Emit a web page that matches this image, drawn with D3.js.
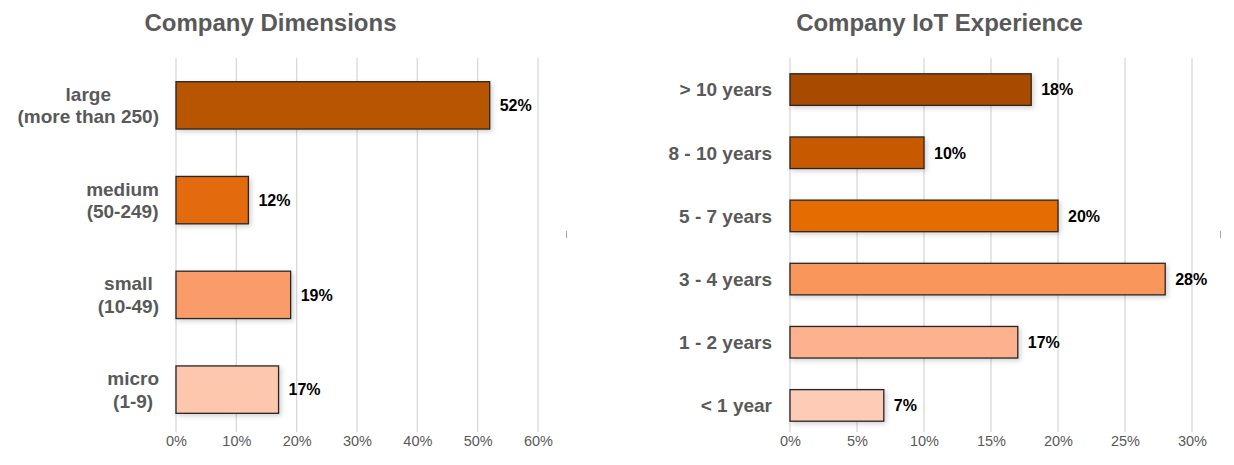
<!DOCTYPE html>
<html>
<head>
<meta charset="utf-8">
<script src="https://cdn.jsdelivr.net/npm/d3@7"></script>
<style>
  html, body { margin: 0; padding: 0; background: #ffffff; }
  svg { display: block; font-family: "Liberation Sans", Arial, sans-serif; }
</style>
</head>
<body>
<svg id="chart" width="1234" height="465"></svg>
<script>
// Company size breakdown (share of respondents, %)
const dimCategories = [["large", "(more than 250)"], ["medium", "(50-249)"], ["small", "(10-49)"], ["micro", "(1-9)"]];
const dimValues = [52, 12, 19, 17];
const dimColors = ["#b85400", "#e36b09", "#fa9c6b", "#fcc7ac"];
const dimTicks = [0, 10, 20, 30, 40, 50, 60];

// Years of IoT experience (share of respondents, %)
const iotCategories = [["> 10 years"], ["8 - 10 years"], ["5 - 7 years"], ["3 - 4 years"], ["1 - 2 years"], ["< 1 year"]];
const iotValues = [18, 10, 20, 28, 17, 7];
const iotColors = ["#a84b00", "#c75a00", "#e46c00", "#f9965c", "#fcb18f", "#fdcbb6"];
const iotTicks = [0, 5, 10, 15, 20, 25, 30];

const svg = d3.select("#chart");

// soft shadow under the bars
const defs = svg.append("defs");
const f = defs.append("filter").attr("id", "barShadow")
  .attr("x", "-10%").attr("y", "-30%").attr("width", "130%").attr("height", "170%");
f.append("feDropShadow").attr("dx", 2).attr("dy", 2).attr("stdDeviation", 2.5)
  .attr("flood-color", "#000").attr("flood-opacity", 0.18);

function drawPanel(cfg) {
  const g = svg.append("g");
  const x = d3.scaleLinear().domain([0, cfg.ticks[cfg.ticks.length - 1]]).range([cfg.x0, cfg.x1]);
  const y = d3.scaleBand().domain(d3.range(cfg.categories.length))
    .range([58, 437]).paddingInner(0.5).paddingOuter(0.25);

  // title
  g.append("text")
    .attr("x", cfg.titleX).attr("y", 31)
    .attr("text-anchor", "middle")
    .attr("font-size", 24).attr("font-weight", "bold").attr("fill", "#595959")
    .text(cfg.title);

  // vertical gridlines
  g.append("g").selectAll("line").data(cfg.ticks).join("line")
    .attr("x1", d => x(d)).attr("x2", d => x(d))
    .attr("y1", 58).attr("y2", 432)
    .attr("stroke", "#d9d9d9").attr("stroke-width", 1.3);

  // percent axis
  const axis = d3.axisBottom(x).tickValues(cfg.ticks).tickFormat(d => d + "%").tickSize(0).tickPadding(0);
  const ax = g.append("g").attr("transform", "translate(0,446)").call(axis);
  ax.select(".domain").remove();
  ax.selectAll("text").attr("font-size", 14.5).attr("fill", "#595959")
    .attr("font-family", "\"Liberation Sans\", Arial, sans-serif").attr("dy", 0);

  // small frame mark at the right edge
  g.append("line")
    .attr("x1", cfg.x1 + 28.5).attr("x2", cfg.x1 + 28.5)
    .attr("y1", 231).attr("y2", 238)
    .attr("stroke", "#a6a6a6").attr("stroke-width", 1);

  // bars
  g.append("g").selectAll("rect").data(cfg.values).join("rect")
    .attr("x", x(0))
    .attr("y", (d, i) => y(i))
    .attr("width", d => x(d) - x(0))
    .attr("height", y.bandwidth())
    .attr("fill", (d, i) => cfg.colors[i])
    .attr("stroke", "#262626").attr("stroke-width", 1.3)
    .attr("filter", "url(#barShadow)");

  // value labels
  g.append("g").selectAll("text").data(cfg.values).join("text")
    .attr("x", d => x(d) + 10)
    .attr("y", (d, i) => y(i) + y.bandwidth() / 2)
    .attr("dy", "0.36em")
    .attr("font-size", 16).attr("font-weight", "bold").attr("fill", "#000")
    .text(d => d + "%");

  // category labels: multi-line blocks, lines centred within a right-aligned block
  const lineH = 22.5;
  cfg.categories.forEach((lines, i) => {
    const cy = y(i) + y.bandwidth() / 2;
    const tg = g.append("g");
    const texts = lines.map((t, k) => tg.append("text")
      .attr("y", cy + (k - (lines.length - 1) / 2) * lineH)
      .attr("dy", "0.36em")
      .attr("font-size", 19).attr("font-weight", "bold").attr("fill", "#595959")
      .attr("text-anchor", "middle")
      .text(t));
    const widths = texts.map(t => t.node().getComputedTextLength());
    const w = d3.max(widths);
    texts.forEach(t => t.attr("x", cfg.labelRight - w / 2));
  });
}

drawPanel({
  title: "Company Dimensions", titleX: 270.5,
  categories: dimCategories, values: dimValues, colors: dimColors, ticks: dimTicks,
  x0: 176, x1: 538, labelRight: 159
});

drawPanel({
  title: "Company IoT Experience", titleX: 939.5,
  categories: iotCategories, values: iotValues, colors: iotColors, ticks: iotTicks,
  x0: 790, x1: 1192, labelRight: 772
});
</script>
</body>
</html>
